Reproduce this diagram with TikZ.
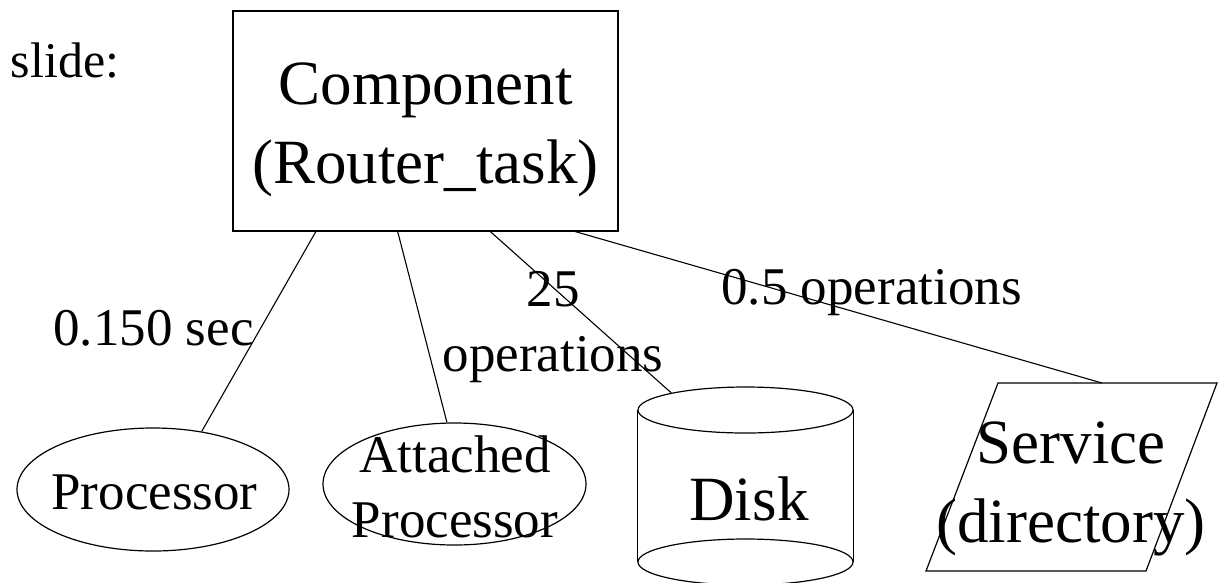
\documentclass[tikz,border=0pt]{standalone}
\usepackage{fontspec}
\setmainfont{Liberation Serif}
\usetikzlibrary{shapes.geometric,calc}
\newcommand\fsz[2]{\fontsize{#1}{#2}\selectfont}
\begin{document}
\begin{tikzpicture}[x=1pt,y=-1pt,
  outline/.style={draw=black,line width=1.2pt},
  link/.style={draw=black,line width=1.1pt},
  oval/.style={outline,ellipse,inner sep=0pt},
  txt/.style={inner sep=0pt,anchor=base,align=center},
  big/.style={txt,font=\fsz{63}{79}},
  mid/.style={txt,font=\fsz{53}{64.5}}]
\useasboundingbox (0,0) rectangle (1222,582);

% title
\node[txt,font=\fsz{50}{60}] (title) at (65,77) {slide:};

% component box (multi-line texts are placed by their last baseline)
\node[outline,rectangle,minimum width=385pt,minimum height=220pt,inner sep=0pt] (comp) at (425.5,121) {};
\node[big] (compt) at (425.5,183) {Component\\(Router\_task)};

% processor
\node[oval,minimum width=272pt,minimum height=123pt] (proc) at (153,489.5) {};
\node[mid] (proct) at (154.5,509) {Processor};

% attached processor
\node[oval,minimum width=263pt,minimum height=122pt] (att) at (454.5,484) {};
\node[mid] (attt) at (455,537) {Attached\\Processor};

% disk drawn as a cylinder
\node[oval,minimum width=215pt,minimum height=46pt] (disktop) at (745.5,410) {};
\node[oval,minimum width=215pt,minimum height=46pt] (diskbot) at (745.5,562) {};
\draw[outline] (disktop.west) -- (diskbot.west);
\draw[outline] (disktop.east) -- (diskbot.east);
\node[big] (diskt) at (749,520) {Disk};

% service as a parallelogram
\coordinate (svcA) at (998,383);
\coordinate (svcB) at (1217,383);
\coordinate (svcC) at (1146,571);
\coordinate (svcD) at (926,571);
\draw[outline] (svcA) -- (svcB) -- (svcC) -- (svcD) -- cycle;
\coordinate (svcin) at (1102,383);
\node[big] (svct) at (1071,542) {Service\\(directory)};

% connectors
\draw[link] ($(comp.south west)!0.216!(comp.south east)$) -- (proc.50);
\draw[link] ($(comp.south west)!0.428!(comp.south east)$) -- (att.97);
\draw[link] ($(comp.south west)!0.668!(comp.south east)$) -- (disktop.167);
\draw[link] ($(comp.south west)!0.888!(comp.south east)$) -- (svcin);

% connector labels
\node[mid] (lproc) at (153.5,345) {0.150 sec};
\node[mid] (ldisk) at (553,371) {25\\operations};
\node[mid] (lsvc) at (871.5,304) {0.5 operations};
\end{tikzpicture}
\end{document}
